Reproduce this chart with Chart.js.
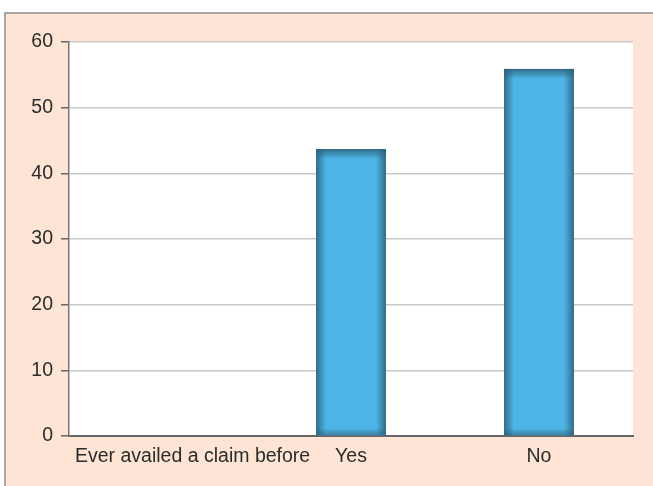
<!DOCTYPE html>
<html>
<head>
<meta charset="utf-8">
<script src="https://cdn.jsdelivr.net/npm/chart.js@4"></script>
<style>
  html, body { margin: 0; padding: 0; background: #ffffff; }
  #frame {
    position: absolute; left: 4px; top: 12px; width: 649px; height: 474px;
    border-top: 2px solid #a6a6a6; border-left: 2px solid #a6a6a6;
    background: #fde4d4;
  }
  #wrap { position: absolute; left: 0; top: 0; width: 653px; height: 486px; }
</style>
</head>
<body>
<div id="frame"></div>
<div id="wrap"><canvas id="myChart" width="653" height="486"></canvas></div>
<script>
const categories = ['Ever availed a claim before', 'Yes', 'No'];
const values = [null, 43.7, 55.9];
const yTicks = [0, 10, 20, 30, 40, 50, 60];

const fontFamily = "'Liberation Sans', Arial, sans-serif";
const textColor = '#2b2b2b';

// white plot area on the peach frame
const plotBg = {
  id: 'plotBg',
  beforeDraw(chart) {
    const a = chart.chartArea;
    const c = chart.ctx;
    c.save();
    c.fillStyle = '#ffffff';
    c.fillRect(a.left, a.top, a.right - a.left, a.bottom - a.top);
    c.restore();
  }
};

// dark inner edges on the bars
const barShade = {
  id: 'barShade',
  afterDatasetsDraw(chart) {
    const c = chart.ctx;
    const meta = chart.getDatasetMeta(0);
    const band = 10;
    const dark = 'rgba(45,95,120,0.85)';
    const clear = 'rgba(45,95,120,0)';
    meta.data.forEach((bar, i) => {
      if (values[i] == null) return;
      const l = bar.x - bar.width / 2, r = bar.x + bar.width / 2;
      const t = bar.y, b = bar.base;
      c.save();
      let g = c.createLinearGradient(l, 0, l + band, 0);
      g.addColorStop(0, dark); g.addColorStop(1, clear);
      c.fillStyle = g; c.fillRect(l, t, band, b - t);
      g = c.createLinearGradient(r, 0, r - band, 0);
      g.addColorStop(0, dark); g.addColorStop(1, clear);
      c.fillStyle = g; c.fillRect(r - band, t, band, b - t);
      g = c.createLinearGradient(0, t, 0, t + band);
      g.addColorStop(0, dark); g.addColorStop(1, clear);
      c.fillStyle = g; c.fillRect(l, t, r - l, band);
      g = c.createLinearGradient(0, b, 0, b - 7);
      g.addColorStop(0, 'rgba(45,95,120,0.6)'); g.addColorStop(1, clear);
      c.fillStyle = g; c.fillRect(l, b - 7, r - l, 7);
      c.restore();
    });
  }
};

// category labels, first one pushed inside the plot
const xLabels = {
  id: 'xLabels',
  afterDraw(chart) {
    const c = chart.ctx;
    const xs = chart.scales.x;
    const a = chart.chartArea;
    c.save();
    c.font = '19.5px ' + fontFamily;
    c.fillStyle = textColor;
    c.textBaseline = 'alphabetic';
    c.textAlign = 'left';
    categories.forEach((lab, i) => {
      const w = c.measureText(lab).width;
      let left = xs.getPixelForTick(i) - w / 2;
      if (left < a.left + 6) left = a.left + 6;
      c.fillText(lab, left, a.bottom + 25.5);
    });
    c.restore();
  }
};

const ctx = document.getElementById('myChart');
new Chart(ctx, {
  type: 'bar',
  data: {
    labels: categories,
    datasets: [{
      data: values,
      backgroundColor: '#4db5e6',
      borderWidth: 0,
      categoryPercentage: 1,
      barPercentage: 0.372
    }]
  },
  options: {
    responsive: false,
    animation: false,
    devicePixelRatio: 1,
    layout: { padding: { top: 42, right: 20, left: 0, bottom: 0 } },
    plugins: { legend: { display: false }, tooltip: { enabled: false } },
    scales: {
      x: {
        grid: { display: false, drawTicks: false },
        border: { display: true, color: '#666666', width: 2 },
        ticks: { display: false },
        afterFit(scale) { scale.height = 50; }
      },
      y: {
        min: 0,
        max: 60,
        afterBuildTicks(scale) { scale.ticks = yTicks.map(v => ({ value: v })); },
        grid: {
          color: '#c8c8c8',
          lineWidth: 1.5,
          tickLength: 8,
          tickColor: '#666666'
        },
        border: { display: true, color: '#777777', width: 1.5 },
        ticks: {
          padding: 8,
          color: textColor,
          font: { size: 19.5, family: fontFamily }
        },
        afterFit(scale) { scale.width = 69; }
      }
    }
  },
  plugins: [plotBg, barShade, xLabels]
});
</script>
</body>
</html>
